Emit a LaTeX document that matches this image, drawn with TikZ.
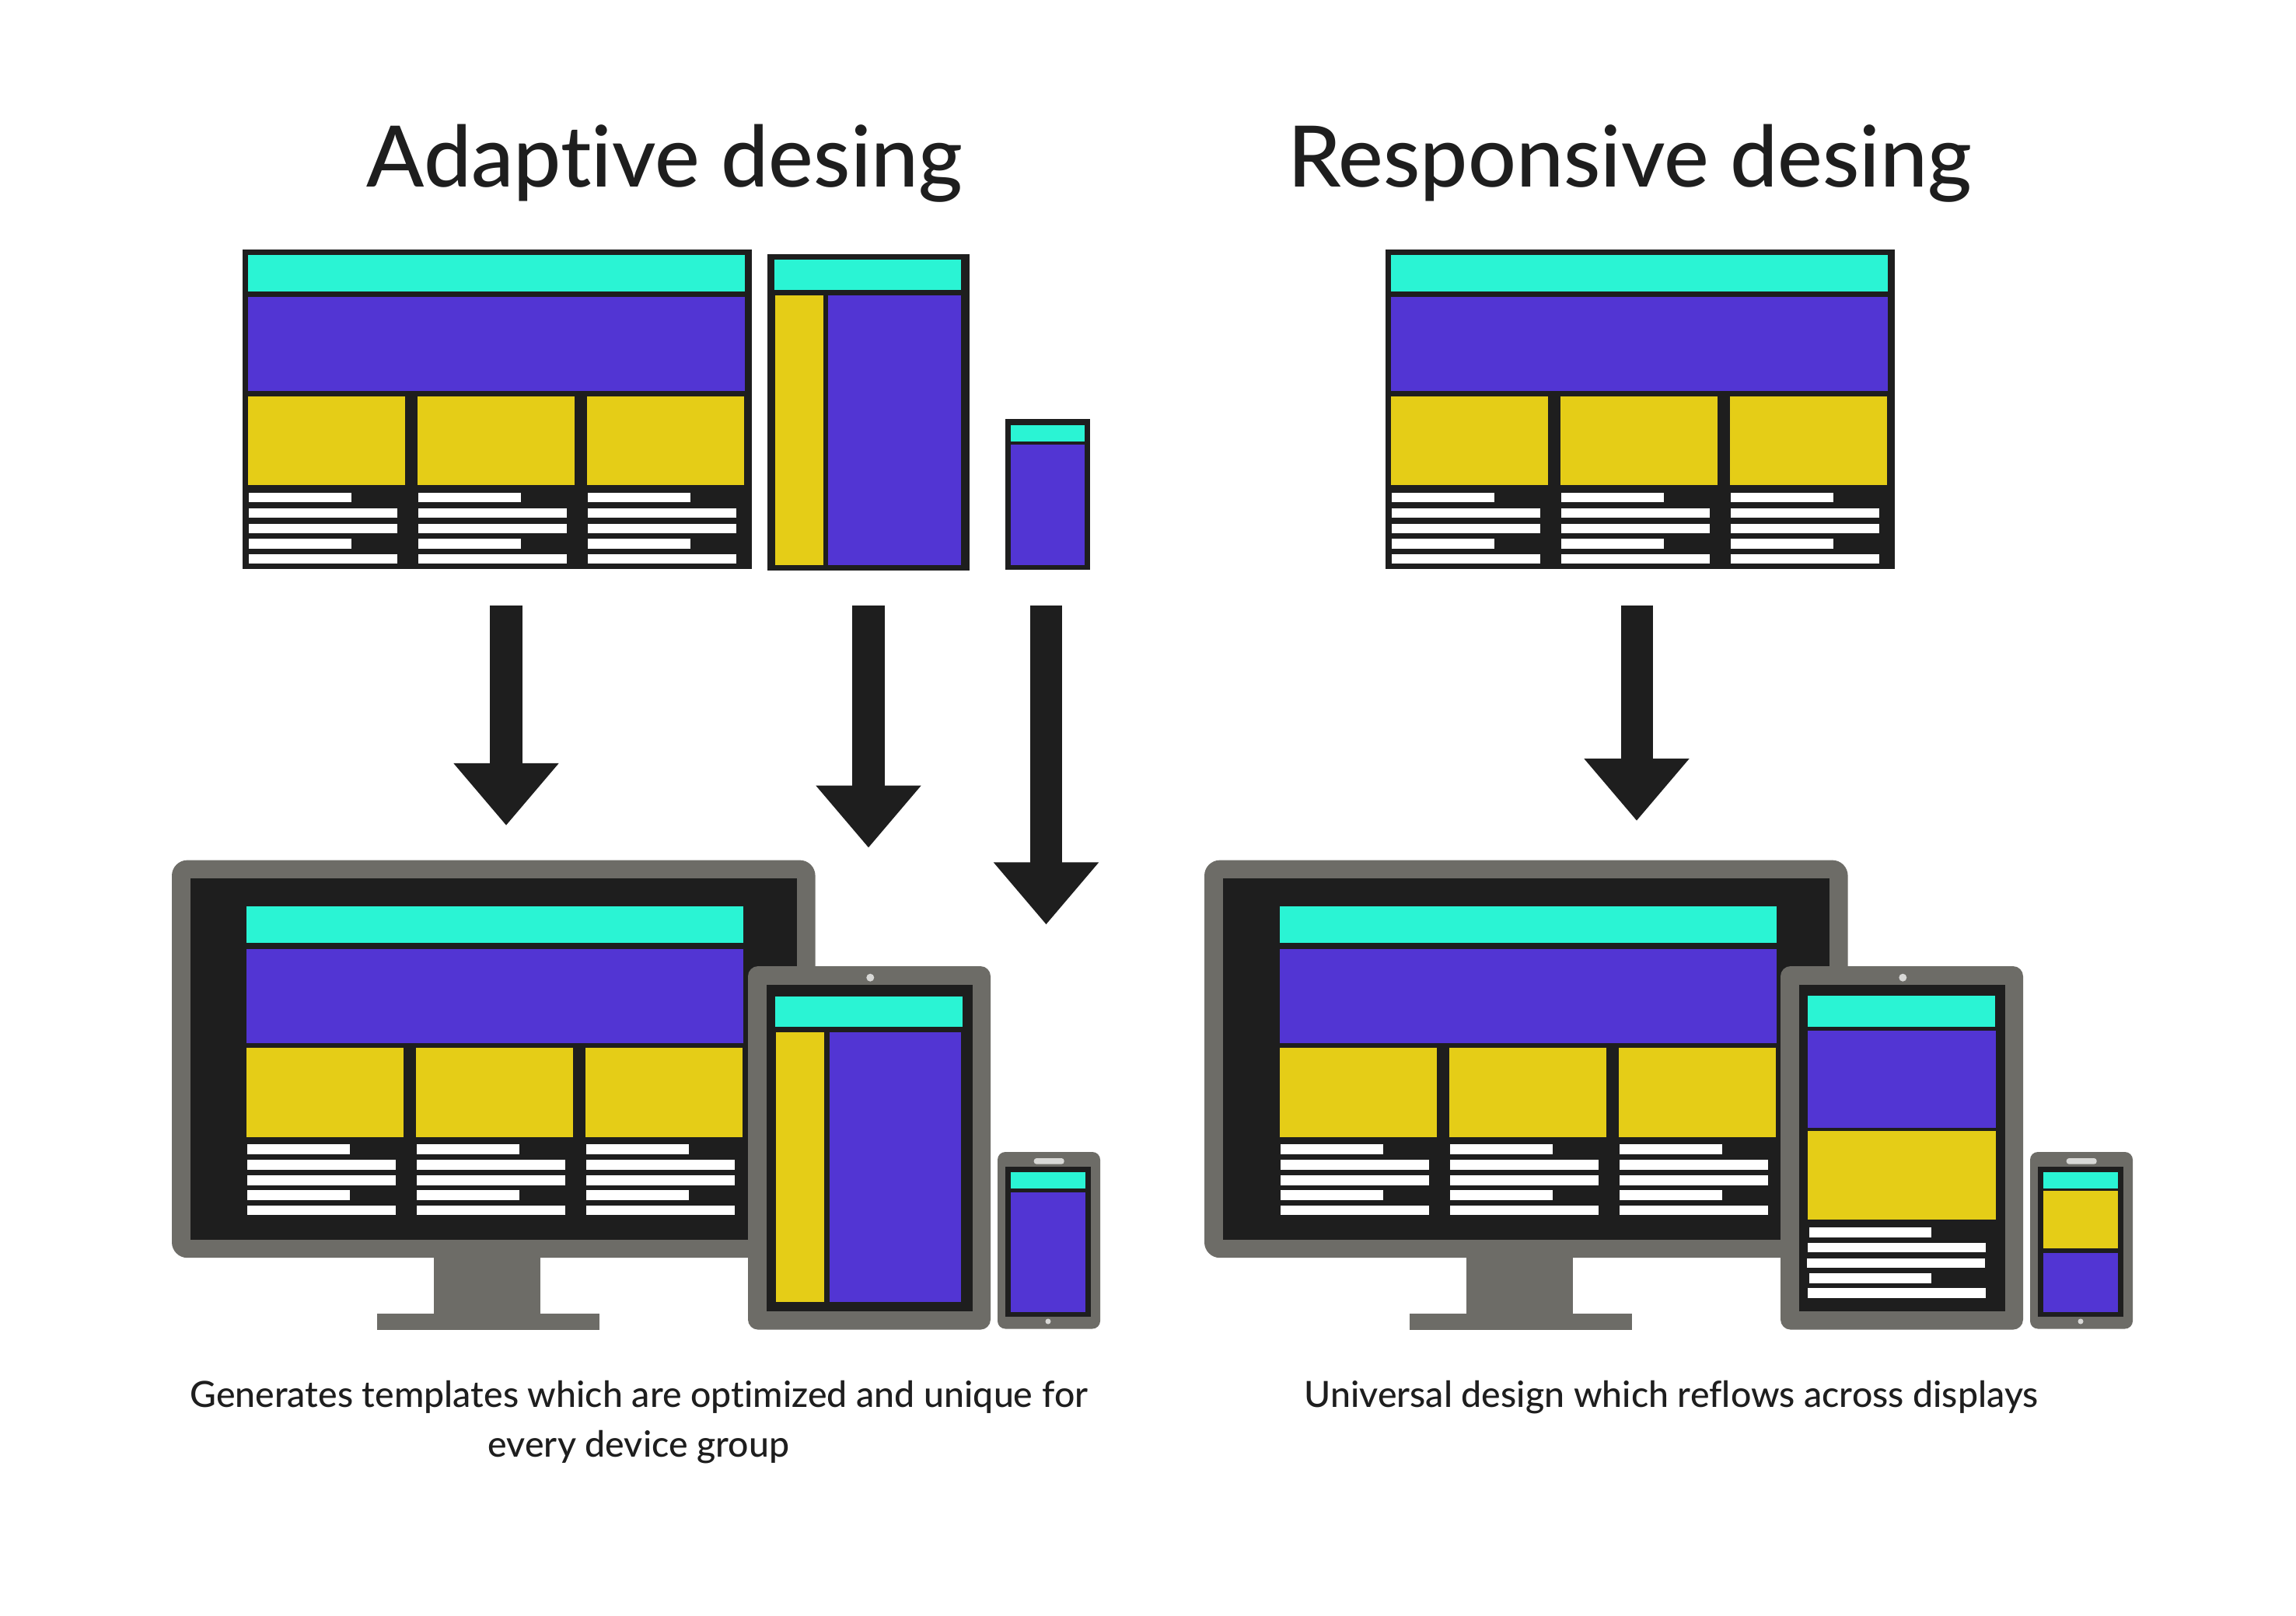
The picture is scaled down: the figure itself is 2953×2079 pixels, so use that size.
\documentclass[tikz,border=0pt]{standalone}
\usepackage{fontspec}
\setmainfont[Ligatures=NoCommon]{Lato Medium}
\usetikzlibrary{arrows.meta}

\definecolor{inkdark}{HTML}{1E1E1E}
\definecolor{shellgray}{HTML}{6D6C67}
\definecolor{headteal}{HTML}{2AF4D4}
\definecolor{mainviolet}{HTML}{5235D3}
\definecolor{cardyellow}{HTML}{E5CD17}
\definecolor{lampgray}{HTML}{D8D8D6}

\tikzset{
  blockarrow/.style={draw=inkdark,line width=0.41cm,-{Triangle[width=1.3cm,length=0.8cm]}},
  titletext/.style={inner sep=0pt,anchor=base,text=inkdark,font=\fontsize{31}{36}\selectfont},
  captiontext/.style={inner sep=0pt,anchor=base,text=inkdark,font=\fontsize{13.2}{18}\selectfont},
}

% the wide page, written at the place of the left wireframe
\newcommand{\widelayout}{
  \fill[headteal] (319,328) rectangle (958,375);
  \fill[mainviolet] (319,382.5) rectangle (958,503.5);
  \foreach \cx in {0,218,436} {
    \fill[cardyellow] (319+\cx,510) rectangle ++(201.5,114.5);
    \foreach \ry/\rw in {634/132,654/191.5,674/191.5,693.3/132,712.8/191.5}
      \fill[white] (319.5+\cx,\ry) rectangle ++(\rw,12.5);
  }
}

% monitor and the shells of tablet and phone come in two steps,
% so the tablet lies over the monitor
\newcommand{\monitorshell}{
  \fill[shellgray] (557.5,1600) rectangle (695,1700);
  \fill[shellgray] (485,1690) rectangle (771,1710.6);
  \fill[shellgray,rounded corners=0.2cm] (221,1106.6) rectangle (1048.6,1618.2);
  \fill[inkdark] (245,1130) rectangle (1025,1595);
}
\newcommand{\tabletshell}{
  \fill[shellgray,rounded corners=0.13cm] (962,1243) rectangle (1274,1710.6);
  \fill[inkdark] (985.5,1266.7) rectangle (1251,1686.7);
  \fill[lampgray] (1119.3,1257.7) circle (0.05cm);
}
\newcommand{\phoneshell}{
  \fill[shellgray,rounded corners=0.1cm] (1283,1482) rectangle (1415,1709.5);
  \fill[inkdark] (1293,1501) rectangle (1403,1694);
  \fill[lampgray,rounded corners=0.035cm] (1329.7,1490) rectangle (1368.7,1497.7);
  \fill[lampgray] (1348,1700) circle (0.035cm);
}

\begin{document}
\begin{tikzpicture}[x=0.01cm,y=-0.01cm]
  \useasboundingbox (0,0) rectangle (2953,2079);

  \node[titletext] (adaptive title) at (855,241) {Adaptive desing};
  \node[titletext] (responsive title) at (2096,241) {Responsive desing};

  % wireframes
  \fill[inkdark] (312,321) rectangle (966.5,732);
  \widelayout
  \fill[inkdark] (987,326.7) rectangle (1247,734);
  \fill[headteal] (996,334) rectangle (1236,373);
  \fill[cardyellow] (997,380) rectangle (1059,727);
  \fill[mainviolet] (1065,380) rectangle (1236,727);
  \fill[inkdark] (1293,539) rectangle (1402,733);
  \fill[headteal] (1300,547) rectangle (1395,568);
  \fill[mainviolet] (1300,572) rectangle (1395,727);
  \begin{scope}[shift={(1470,0)}]
    \fill[inkdark] (312,321) rectangle (966.5,732);
    \widelayout
  \end{scope}

  % arrows
  \coordinate (arrow wide top) at (651,778.8);
  \coordinate (arrow wide tip) at (651,1062);
  \coordinate (arrow tablet top) at (1117,778.8);
  \coordinate (arrow tablet tip) at (1117,1090.7);
  \coordinate (arrow phone top) at (1345.5,778.8);
  \coordinate (arrow phone tip) at (1345.5,1189.5);
  \coordinate (arrow fluid top) at (2105,778.8);
  \coordinate (arrow fluid tip) at (2105,1056);
  \draw[blockarrow] (arrow wide top) -- (arrow wide tip);
  \draw[blockarrow] (arrow tablet top) -- (arrow tablet tip);
  \draw[blockarrow] (arrow phone top) -- (arrow phone tip);
  \draw[blockarrow] (arrow fluid top) -- (arrow fluid tip);

  % adaptive devices
  \monitorshell
  \begin{scope}[shift={(-2,838)}]
    \widelayout
  \end{scope}
  \tabletshell
  \fill[headteal] (997,1281.5) rectangle (1237.5,1321);
  \fill[cardyellow] (998,1328) rectangle (1059.5,1674.6);
  \fill[mainviolet] (1067,1328) rectangle (1236,1674.6);
  \phoneshell
  \fill[headteal] (1300,1508) rectangle (1396,1529);
  \fill[mainviolet] (1300,1533.6) rectangle (1396,1688);

  % responsive devices
  \begin{scope}[shift={(1328,0)}]
    \monitorshell
  \end{scope}
  \begin{scope}[shift={(1327,838)}]
    \widelayout
  \end{scope}
  \begin{scope}[shift={(1328,0)}]
    \tabletshell
    \fill[headteal] (997,1281) rectangle (1237.7,1320.7);
    \fill[mainviolet] (997,1326) rectangle (1238.7,1451);
    \fill[cardyellow] (997,1455) rectangle (1238.7,1569);
    \foreach \ry/\rx/\rw in {1579/998.7/157.3,1598.7/997/229,1618.7/996/229,1638/998.7/157.3,1657/997/229}
      \fill[white] (\rx,\ry) rectangle ++(\rw,12.5);
    \phoneshell
    \fill[headteal] (1300,1508) rectangle (1396,1529);
    \fill[cardyellow] (1300,1532) rectangle (1396,1606);
    \fill[mainviolet] (1300,1611.7) rectangle (1396,1688);
  \end{scope}

  \node[captiontext] (adaptive caption) at (821.5,1810) {Generates templates which are optimized and unique for};
  \node[captiontext] (adaptive caption end) at (821.5,1874) {every device group};
  \node[captiontext] (responsive caption) at (2149.5,1810) {Universal design which reflows across displays};
\end{tikzpicture}
\end{document}
